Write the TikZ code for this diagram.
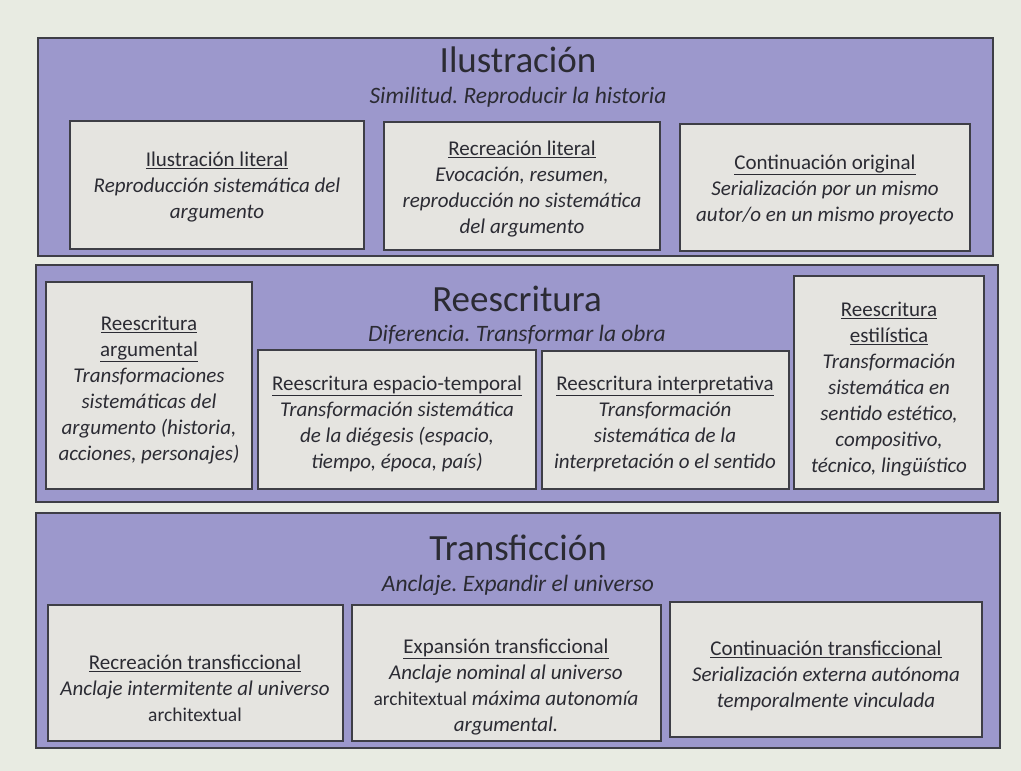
\documentclass[tikz,border=0pt]{standalone}
\usepackage{fontspec}
\setmainfont{Carlito}
\usetikzlibrary{fit}
\definecolor{bg}{HTML}{E8EBE2}
\definecolor{band}{HTML}{9C98CC}
\definecolor{inner}{HTML}{E5E4E0}
\definecolor{edge}{HTML}{3E3E46}
\definecolor{ink}{HTML}{2B2B33}
\newcommand\hdline[1]{\underline{\upshape #1}}
\newcommand\archi{{\upshape\fontsize{19.5}{26}\selectfont architextual}}
\frenchspacing
\begin{document}
\begin{tikzpicture}[x=1pt,y=-1pt,
 bandbox/.style={draw=edge, line width=2.6pt, fill=band, inner sep=0pt},
 cell/.style={draw=edge, line width=2pt, fill=inner, inner sep=0pt},
 title/.style={text=ink, inner sep=0pt, font=\fontsize{37}{42}\selectfont},
 subtitle/.style={text=ink, inner sep=0pt, font=\fontsize{23.5}{28}\selectfont\itshape},
 body/.style={text=ink, align=center, inner sep=0pt, font=\fontsize{21}{26}\selectfont\itshape},
]
\fill[bg] (0,0) rectangle (1021,771);
\useasboundingbox (0,0) rectangle (1021,771);

% bands
\node[bandbox, fit={(38,38) (993,256)}] (band1) {};
\node[bandbox, fit={(36,265) (998,502)}] (band2) {};
\node[bandbox, fit={(36,513) (1000,748)}] (band3) {};

% titles
\node[title] (t1) at (518,60) {Ilustración};
\node[subtitle] (s1) at (518,97) {Similitud. Reproducir la historia};
\node[title] (t2) at (517,299) {Reescritura};
\node[subtitle] (s2) at (517,335) {Diferencia. Transformar la obra};
\node[title] (t3) at (518,548) {Transficción};
\node[subtitle] (s3) at (518,585) {Anclaje. Expandir el universo};

% cells band 1
\node[cell, fit={(70,121) (364,249)}] (c11) {};
\node[cell, fit={(384,122) (660,250)}] (c12) {};
\node[cell, fit={(680,124) (970,251)}] (c13) {};
% cells band 2
\node[cell, fit={(46,282) (252,489)}] (c21) {};
\node[cell, fit={(258,350) (536,489)}] (c22) {};
\node[cell, fit={(542,351) (789,489)}] (c23) {};
\node[cell, fit={(794,276) (984,489)}] (c24) {};
% cells band 3
\node[cell, fit={(48,605) (343,741)}] (c31) {};
\node[cell, fit={(352,605) (661,741)}] (c32) {};
\node[cell, fit={(670,602) (982,737)}] (c33) {};

% texts
\node[body] (x11) at (217,187) {\hdline{Ilustración literal}\\Reproducción sistemática del\\argumento};
\node[body] (x12) at (522,189) {\hdline{Recreación literal}\\Evocación, resumen,\\reproducción no sistemática\\del argumento};
\node[body] (x13) at (825,190) {\hdline{Continuación original}\\Serialización por un mismo\\autor/o en un mismo proyecto};
\node[body] (x21) at (149,390) {\hdline{Reescritura}\\\hdline{argumental}\\Transformaciones\\sistemáticas del\\argumento (historia,\\acciones, personajes)};
\node[body] (x22) at (397,424) {\hdline{Reescritura espacio-temporal}\\Transformación sistemática\\de la diégesis (espacio,\\tiempo, época, país)};
\node[body] (x23) at (665,424) {\hdline{Reescritura interpretativa}\\Transformación\\sistemática de la\\interpretación o el sentido};
\node[body] (x24) at (889,389) {\hdline{Reescritura}\\\hdline{estilística}\\Transformación\\sistemática en\\sentido estético,\\compositivo,\\técnico, lingüístico};
\node[body] (x31) at (195,688) {\hdline{Recreación transficcional}\\Anclaje intermitente al universo\\\archi};
\node[body] (x32) at (506,687) {\hdline{Expansión transficcional}\\Anclaje nominal al universo\\\archi{} máxima autonomía\\argumental.};
\node[body] (x33) at (826,676) {\hdline{Continuación transficcional}\\Serialización externa autónoma\\temporalmente vinculada};
\end{tikzpicture}
\end{document}
